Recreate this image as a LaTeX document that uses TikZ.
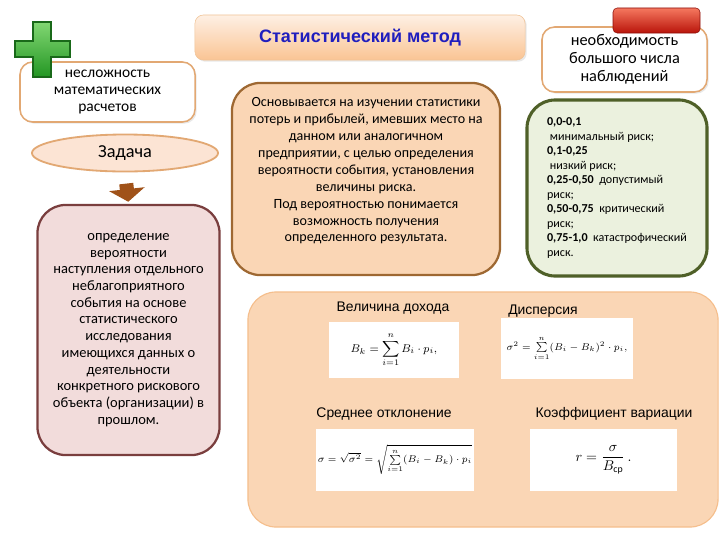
\documentclass[tikz,border=0pt]{standalone}
\usepackage{amsmath}
\usepackage{fontspec}
\setmainfont{Carlito}
\newfontfamily\arialfont{Liberation Sans}
\usetikzlibrary{arrows.meta,shapes.geometric,shadows}

\definecolor{peach}{RGB}{250,214,181}
\definecolor{tanline}{RGB}{226,168,115}
\definecolor{brownline}{RGB}{158,104,50}
\definecolor{pinkfill}{RGB}{242,220,219}
\definecolor{maroon}{RGB}{122,62,62}
\definecolor{olivefill}{RGB}{235,241,222}
\definecolor{oliveline}{RGB}{79,96,40}
\definecolor{titleblue}{RGB}{32,30,190}
\definecolor{arrowbrown}{RGB}{160,82,25}

\begin{document}
\begin{tikzpicture}[x=0.025cm,y=-0.025cm,
  softshadow/.style={drop shadow={opacity=0.18, shadow xshift=1.2pt, shadow yshift=-1.2pt}},
  lightbox/.style={draw=tanline, line width=1.1pt, fill=white, rounded corners=9pt, align=center, softshadow},
  bigbox/.style={rounded corners=20pt, align=center, inner sep=0pt},
  fbox/.style={fill=white, inner sep=0pt},
  flabel/.style={font=\arialfont\fontsize{9.9}{11}\selectfont}]

\useasboundingbox (0,0) rectangle (720,540);

% Заголовок
\node[draw={rgb,255:red,240;green,195;blue,150}, rounded corners=6pt, softshadow,
  top color={rgb,255:red,254;green,240;blue,228}, bottom color={rgb,255:red,250;green,196;blue,148},
  minimum width=8.25cm, minimum height=1.125cm,
  font=\arialfont\bfseries\fontsize{12.8}{14}\selectfont, text=titleblue] (title) at (360,37.5)
  {Статистический метод};

% Левая колонка
\node[lightbox, minimum width=4.375cm, minimum height=1.5cm,
  font=\fontsize{11}{12.2}\selectfont] (easy) at (107.5,92)
  {несложность\\математических\\расчетов};
\draw[draw={rgb,255:red,25;green,105;blue,25}, line width=0.8pt,
  top color={rgb,255:red,130;green,215;blue,115}, bottom color={rgb,255:red,35;green,150;blue,35}]
  (33,22) -- (51,22) -- (51,41) -- (70,41) -- (70,57) -- (51,57) -- (51,77)
  -- (33,77) -- (33,57) -- (15,57) -- (15,41) -- (33,41) -- cycle;

\node[ellipse, draw=tanline, line width=1.3pt, fill={rgb,255:red,252;green,228;blue,212},
  minimum width=4.65cm, minimum height=0.925cm, font=\fontsize{13}{15}\selectfont] (zad) at (125,153)
  {Задача};

\node[bigbox, draw=maroon, line width=1.6pt, fill=pinkfill,
  minimum width=4.55cm, minimum height=6.25cm, font=\fontsize{10.3}{11.9}\selectfont] (task) at (128.5,330)
  {определение\\вероятности\\наступления отдельного\\неблагоприятного\\события на основе\\статистического\\исследования\\имеющихся данных о\\деятельности\\конкретного рискового\\объекта (организации) в\\прошлом.};

\draw[-{Triangle[width=25pt,length=9pt]}, line width=10pt, arrowbrown,
  shorten <=8pt, shorten >=1.5pt] (zad.south) -- (task.north);

% Центр
\node[bigbox, draw=brownline, line width=1.6pt, fill=peach, text depth=13pt,
  minimum width=6.7cm, minimum height=4.8cm, font=\fontsize{10}{12}\selectfont] (basis) at (366,179)
  {Основывается на изучении статистики\\потерь и прибылей, имевших место на\\данном или аналогичном\\предприятии, с целью определения\\вероятности события, установления\\величины риска.\\Под вероятностью понимается\\возможность получения\\определенного результата.};

% Правая колонка
\node[lightbox, minimum width=4.125cm, minimum height=1.625cm,
  font=\fontsize{11.6}{12.8}\selectfont] (need) at (624.5,59.5)
  {необходимость\\большого числа\\наблюдений};
\node[draw={rgb,255:red,140;green,15;blue,10}, rounded corners=3pt,
  top color={rgb,255:red,245;green,120;blue,95}, bottom color={rgb,255:red,185;green,20;blue,10},
  minimum width=2.175cm, minimum height=0.625cm] (minus) at (656.5,20.5) {};

\node[bigbox, draw=oliveline, line width=2.2pt, fill=olivefill,
  minimum width=4.5cm, minimum height=4.4cm, align=left, font=\fontsize{8.6}{10.35}\selectfont] (scale) at (617,188)
  {\textbf{0,0-0,1}\\
   \hspace*{2pt}минимальный риск;\\
   \textbf{0,1-0,25}\\
   \hspace*{2pt}низкий риск;\\
   \textbf{0,25-0,50} \ допустимый\\
   риск;\\
   \textbf{0,50-0,75} \ критический\\
   риск;\\
   \textbf{0,75-1,0} \ катастрофический\\
   риск.};

% Показатели
\node[bigbox, draw={rgb,255:red,245;green,190;blue,140}, line width=0.8pt, fill=peach,
  minimum width=11.75cm, minimum height=5.875cm] (indices) at (483,409.5) {};

\node[fbox, minimum width=3.25cm, minimum height=1.4cm] (f1) at (394,350)
  {\footnotesize $\displaystyle B_k=\sum_{i=1}^{n}B_i\cdot p_i,$};
\node[fbox, minimum width=3.3cm, minimum height=1.525cm] (f2) at (567,348.5)
  {\scriptsize $\sigma^2=\sum\limits_{i=1}^{n}(B_i-B_k)^2\cdot p_i,$};
\node[fbox, minimum width=3.95cm, minimum height=1.55cm] (f3) at (395,460)
  {\scriptsize $\sigma=\sqrt{\sigma^2}=\sqrt{\sum\limits_{i=1}^{n}(B_i-B_k)\cdot p_i}$};
\node[fbox, minimum width=3.675cm, minimum height=1.55cm] (f4) at (603.5,460)
  {$r=\dfrac{\sigma}{B_{\text{ср}}}\,.$};

\node[flabel] (l1) at (393,308) {Величина дохода};
\node[flabel] (l2) at (543,311) {Дисперсия};
\node[flabel] (l3) at (384,414) {Среднее отклонение};
\node[flabel] (l4) at (614,414) {Коэффициент вариации};

\end{tikzpicture}
\end{document}
